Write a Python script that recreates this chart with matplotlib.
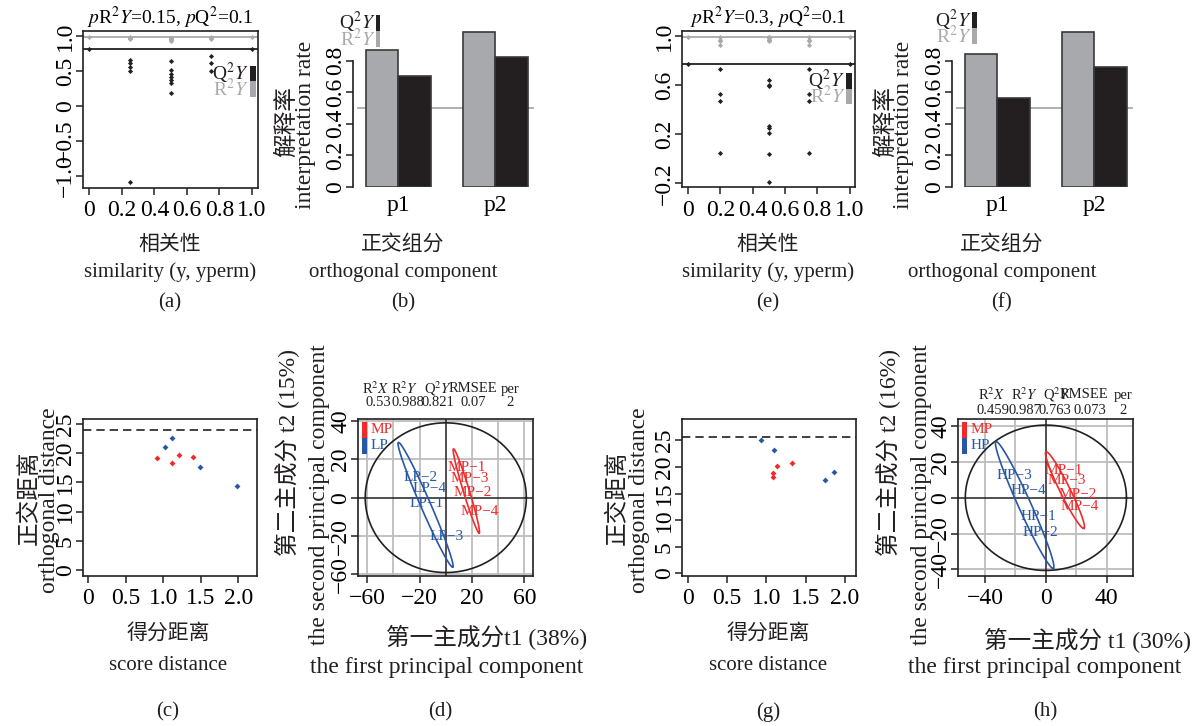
import numpy as np
import matplotlib
matplotlib.use("Agg")
import matplotlib.pyplot as plt
from matplotlib.patches import Rectangle

plt.rcParams['font.family'] = ['Liberation Serif', 'Noto Sans CJK SC']
plt.rcParams['mathtext.fontset'] = 'stix'
plt.rcParams['axes.unicode_minus'] = True

W, H = 1199, 726
INK = '#231F20'
GREY = '#A7A9AC'
RED = '#EE2A2A'
BLUE = '#2757A5'

# permutation tests: similarity, R2Y and Q2Y of each permuted model
perm_sim_a = [0.0, 0.25, 0.25, 0.25, 0.25, 0.25, 0.5, 0.5, 0.5, 0.5, 0.5, 0.5, 0.5, 0.75, 0.75, 0.75, 1.0]
perm_r2_a = [0.98, 0.97, 0.98, 0.96, 0.97, 0.97, 0.95, 0.93, 0.96, 0.97, 0.95, 0.94, 0.97, 0.97, 0.96, 0.98, 0.98]
perm_q2_a = [0.81, 0.66, 0.61, 0.56, 0.50, -1.08, 0.64, 0.51, 0.46, 0.42, 0.37, 0.33, 0.19, 0.72, 0.61, 0.50, 0.81]
model_a = (0.98, 0.81)

perm_sim_e = [0.0, 0.2, 0.2, 0.2, 0.2, 0.5, 0.5, 0.5, 0.5, 0.5, 0.5, 0.5, 0.5, 0.75, 0.75, 0.75, 0.75, 1.0]
perm_r2_e = [0.99, 0.99, 0.96, 0.97, 0.93, 0.99, 0.98, 0.97, 0.97, 0.96, 0.98, 0.99, 0.97, 0.99, 0.97, 0.96, 0.93, 0.99]
perm_q2_e = [0.77, 0.73, 0.53, 0.47, 0.05, 0.64, 0.60, 0.59, 0.27, 0.25, 0.21, 0.04, -0.19, 0.73, 0.53, 0.47, 0.05, 0.77]
model_e = (0.99, 0.77)

# explained variation per orthogonal component
components = ['p1', 'p2']
r2y_b = [0.87, 0.98]
q2y_b = [0.70, 0.82]
r2y_f = [0.84, 0.98]
q2y_f = [0.565, 0.76]

# score distance vs orthogonal distance
sd_c_mp = [0.92, 1.12, 1.21, 1.40]
od_c_mp = [19.2, 18.3, 19.7, 19.3]
sd_c_lp = [1.03, 1.12, 1.49, 1.98]
od_c_lp = [21.0, 22.65, 17.6, 14.3]
od_limit_c = 24.0

sd_g_mp = [1.08, 1.08, 1.13, 1.32]
od_g_mp = [18.9, 18.2, 20.2, 20.8]
sd_g_hp = [0.93, 1.10, 1.75, 1.86]
od_g_hp = [25.0, 23.1, 17.6, 19.1]
od_limit_g = 25.6

# OPLS-DA score plots
names_d_mp = ['MP−1', 'MP−2', 'MP−3', 'MP−4']
t1_d_mp = [16.0, 20.6, 18.6, 26.2]
t2_d_mp = [15.7, 2.6, 10.1, -7.3]
names_d_lp = ['LP−1', 'LP−2', 'LP−3', 'LP−4']
t1_d_lp = [-15.0, -18.9, 0.8, -12.5]
t2_d_lp = [-3.0, 10.6, -20.3, 4.9]

names_h_mp = ['MP−1', 'MP−2', 'MP−3', 'MP−4']
t1_h_mp = [11.5, 20.7, 13.7, 22.0]
t2_h_mp = [15.4, 2.0, 9.5, -5.0]
names_h_hp = ['HP−1', 'HP−2', 'HP−3', 'HP−4']
t1_h_hp = [-4.9, -3.8, -20.9, -11.5]
t2_h_hp = [-10.2, -19.3, 12.7, 3.9]

# ellipses: centre x, centre y, semi-major, semi-minor, angle (deg)
ell_d_t2 = (0.0, 0.0, 61.5, 39.0, 0.0)
ell_d_mp = (15.7, 3.55, 24.0, 2.2, -65.8)
ell_d_lp = (-15.45, -3.65, 38.5, 3.5, -57.3)
ell_h_t2 = (0.0, 0.0, 53.0, 40.6, 0.0)
ell_h_mp = (12.55, 4.3, 24.8, 3.2, -59.6)
ell_h_hp = (-13.95, -4.05, 40.1, 4.0, -61.9)

metric_names = [r'R$^2$$X$', r'R$^2$$Y$', r'Q$^2$$Y$', 'RMSEE', 'per']
metrics_d = ['0.53', '0.988', '0.821', '0.07', '2']
metrics_h = ['0.459', '0.987', '0.763', '0.073', '2']

fig = plt.figure(figsize=(W / 100, H / 100), dpi=100)


def px_axes(l, t, r, b):
    return fig.add_axes([l / W, 1 - b / H, (r - l) / W, (b - t) / H])


def ftext(x, y, s, **kw):
    kw.setdefault('ha', 'center')
    kw.setdefault('va', 'center')
    fig.text(x / W, 1 - y / H, s, **kw)


def style(ax, box=True):
    for sp in ax.spines.values():
        sp.set_linewidth(1.2)
        sp.set_color(INK)
        sp.set_visible(box)
    ax.tick_params(length=5, width=1.1, color=INK, labelsize=17, pad=4)
    ax.tick_params(axis='y', labelrotation=90, pad=0)
    for lbl in ax.get_yticklabels():
        lbl.set_va('center')


def ellipse_xy(p):
    cx, cy, a, b, ang = p
    t = np.linspace(0, 2 * np.pi, 300)
    th = np.deg2rad(ang)
    x = cx + a * np.cos(t) * np.cos(th) - b * np.sin(t) * np.sin(th)
    y = cy + a * np.cos(t) * np.sin(th) + b * np.sin(t) * np.cos(th)
    return x, y


def perm_panel(box, xlim, ylim, sim, r2, q2, model, yticks, ylabels, title):
    ax = px_axes(*box)
    ax.axhline(model[0], color=GREY, lw=1.3)
    ax.axhline(model[1], color=INK, lw=1.3)
    ax.plot(sim, r2, 'D', color=GREY, ms=2.6, mec='none')
    ax.plot(sim, q2, 'D', color=INK, ms=2.6, mec='none')
    ax.set_xlim(*xlim)
    ax.set_ylim(*ylim)
    ax.set_xticks([0, 0.2, 0.4, 0.6, 0.8, 1.0], ['0', '0.2', '0.4', '0.6', '0.8', '1.0'])
    ax.set_yticks(yticks, ylabels)
    style(ax)
    ax.set_title(title, fontsize=14, pad=2)
    return ax


def inline_legend(ax, x_bar, y_top, seg_h, bar_w, fontsize=14):
    # stacked colour keys with their labels to the left
    for i, (lab, col) in enumerate([(r'Q$^2$$Y$', INK), (r'R$^2$$Y$', GREY)]):
        y0 = y_top - (i + 1) * seg_h
        ax.add_patch(Rectangle((x_bar, y0), bar_w, seg_h, transform=ax.transAxes,
                               color=col, clip_on=False, lw=0))
        ax.text(x_bar - 0.005, y0 + seg_h / 2, lab, transform=ax.transAxes, color=col,
                ha='right', va='center', fontsize=fontsize)


def bar_panel(box, r2, q2):
    ax = px_axes(*box)
    pos = np.arange(len(components)) * 3 + 1
    ax.bar(pos + 0.5, r2, width=1, color=GREY, edgecolor='#3A3A3A', lw=1.2)
    ax.bar(pos + 1.5, q2, width=1, color=INK, edgecolor='#3A3A3A', lw=1.2)
    ax.axhline(0.5, xmin=0.027, xmax=0.989, color=GREY, lw=1.3, zorder=0)
    ax.set_xlim(0.6, 6.23)
    ax.set_ylim(0, 1.057)
    ax.set_xticks(pos + 1, components)
    ax.set_yticks([0, 0.2, 0.4, 0.6, 0.8], ['0', '0.2', '0.4', '0.6', '0.8'])
    style(ax, box=False)
    ax.spines['left'].set_visible(True)
    ax.spines['left'].set_bounds(0, 0.8)
    ax.tick_params(axis='x', length=0, pad=6)
    return ax


def dist_panel(box, xlim, ylim, sd_a, od_a, sd_b, od_b, limit):
    ax = px_axes(*box)
    ax.axhline(limit, color=INK, lw=1.2, ls=(0, (5, 3)))
    ax.plot(sd_a, od_a, 'D', color=RED, ms=3, mec='none')
    ax.plot(sd_b, od_b, 'D', color=BLUE, ms=3, mec='none')
    ax.set_xlim(*xlim)
    ax.set_ylim(*ylim)
    ax.set_xticks([0, 0.5, 1.0, 1.5, 2.0], ['0', '0.5', '1.0', '1.5', '2.0'])
    ax.set_yticks([0, 5, 10, 15, 20, 25])
    style(ax)
    return ax


def score_panel(box, xlim, ylim, grid, xticks, xlabels, yticks, ylabels,
                ells, groups, legend, metrics, name_x, val_x, name_y, val_y):
    ax = px_axes(*box)
    for g in grid[0]:
        ax.axvline(g, color='#BDBDBD', lw=1.3, zorder=0)
    for g in grid[1]:
        ax.axhline(g, color='#BDBDBD', lw=1.3, zorder=0)
    ax.axvline(0, color=INK, lw=1.1)
    ax.axhline(0, color=INK, lw=1.1)
    for p, col in zip(ells, [INK, RED, BLUE]):
        ex, ey = ellipse_xy(p)
        ax.plot(ex, ey, color=col, lw=1.2)
    for names, tx, ty, col in groups:
        for n, x, y in zip(names, tx, ty):
            ax.text(x, y, n, color=col, fontsize=11, ha='center', va='center')
    for i, (lab, col) in enumerate(legend):
        y0 = 0.98 - (i + 1) * 0.1
        ax.add_patch(Rectangle((0.022, y0), 0.03, 0.1, transform=ax.transAxes,
                               color=col, lw=0))
        ax.text(0.07, y0 + 0.05, lab, transform=ax.transAxes, color=col,
                fontsize=11, ha='left', va='center')
    for n, v, xn, xv in zip(metric_names, metrics, name_x, val_x):
        ftext(xn, name_y, n, fontsize=10.5, color=INK)
        ftext(xv, val_y, v, fontsize=10.5, color=INK)
    ax.set_xlim(*xlim)
    ax.set_ylim(*ylim)
    ax.set_xticks(xticks, xlabels)
    ax.set_yticks(yticks, ylabels)
    style(ax)
    return ax


# (a) and (e): permutation tests
ax_a = perm_panel((83, 31, 258, 188), (-0.04, 1.037), (-1.17, 1.07),
                  perm_sim_a, perm_r2_a, perm_q2_a, model_a,
                  [-1.0, -0.5, 0, 0.5, 1.0], ['−1.0', '−0.5', '0', '0.5', '1.0'],
                  r'$p$R$^2$$Y$=0.15, $p$Q$^2$=0.1')
inline_legend(ax_a, 0.952, 0.78, 0.1, 0.035)

ax_e = perm_panel((682, 31, 855, 187), (-0.037, 1.034), (-0.23, 1.04),
                  perm_sim_e, perm_r2_e, perm_q2_e, model_e,
                  [-0.2, 0.2, 0.6, 1.0], ['−0.2', '0.2', '0.6', '1.0'],
                  r'$p$R$^2$$Y$=0.3, $p$Q$^2$=0.1')
inline_legend(ax_e, 0.947, 0.73, 0.1, 0.035)

# (b) and (f): explained variation
ax_b = bar_panel((353, 20, 535, 187), r2y_b, q2y_b)
inline_legend(ax_b, 0.126, 1.03, 0.095, 0.022)
ax_f = bar_panel((952, 20, 1134, 187), r2y_f, q2y_f)
inline_legend(ax_f, 0.11, 1.045, 0.095, 0.027)

# (c) and (g): distance plots
dist_panel((83, 419, 257, 576), (-0.067, 2.25), (-1.03, 25.86),
           sd_c_mp, od_c_mp, sd_c_lp, od_c_lp, od_limit_c)
dist_panel((682, 419, 856, 576), (-0.076, 2.14), (-0.47, 29.0),
           sd_g_mp, od_g_mp, sd_g_hp, od_g_hp, od_limit_g)

# (d) and (h): score plots
score_panel((358, 419, 533, 576), (-67, 66.6), (-40.8, 41),
            ([-60, -40, -20, 20, 40, 60], [-40, -20, 20, 40]),
            [-60, -20, 20, 60], ['−60', '−20', '20', '60'],
            [40, 20, 0, -20, -40], ['40', '20', '0', '−20', '−60'],
            [ell_d_t2, ell_d_mp, ell_d_lp],
            [(names_d_mp, t1_d_mp, t2_d_mp, RED), (names_d_lp, t1_d_lp, t2_d_lp, BLUE)],
            [('MP', RED), ('LP', BLUE)], metrics_d,
            [376, 405, 438, 473, 510], [378, 408, 438, 473, 510], 389, 403)
score_panel((958, 419, 1133, 576), (-57.8, 57.3), (-43.7, 44),
            ([-40, -20, 20, 40], [-40, -20, 20, 40]),
            [-40, 0, 40], ['−40', '0', '40'],
            [40, 20, 0, -20, -40], ['40', '20', '0', '−20', '−40'],
            [ell_h_t2, ell_h_mp, ell_h_hp],
            [(names_h_mp, t1_h_mp, t2_h_mp, RED), (names_h_hp, t1_h_hp, t2_h_hp, BLUE)],
            [('MP', RED), ('HP', BLUE)], metrics_h,
            [992, 1025, 1057, 1084, 1123], [993, 1025, 1055, 1090, 1123], 395, 411)

# axis titles and panel letters
lab_kw = dict(fontsize=15, color=INK)
for cx in (170, 768):
    ftext(cx, 245, '相关性', **lab_kw)
    ftext(cx, 272, 'similarity (y, yperm)', **lab_kw)
for cx in (403, 1002):
    ftext(cx, 245, '正交组分', **lab_kw)
    ftext(cx, 272, 'orthogonal component', **lab_kw)
for cx, tag in [(170, '(a)'), (403, '(b)'), (768, '(e)'), (1002, '(f)')]:
    ftext(cx, 303, tag, **lab_kw)

for cx in (168, 768):
    ftext(cx, 634, '得分距离', **lab_kw)
    ftext(cx, 665, 'score distance', **lab_kw)
ftext(487, 637, '第一主成分t1 (38%)', fontsize=17, color=INK)
ftext(447, 667, 'the first principal component', fontsize=17, color=INK)
ftext(1088, 640, '第一主成分 t1 (30%)', fontsize=17, color=INK)
ftext(1045, 667, 'the first principal component', fontsize=17, color=INK)
for cx, tag in [(168, '(c)'), (440, '(d)'), (768, '(g)'), (1045, '(h)')]:
    ftext(cx, 712, tag, **lab_kw)

rot = dict(rotation=90, fontsize=17, color=INK)
ftext(287, 122, '解释率', **rot)
ftext(305, 125, 'interpretation rate', **rot)
ftext(886, 122, '解释率', **rot)
ftext(904, 125, 'interpretation rate', **rot)
ftext(30, 498, '正交距离', **rot)
ftext(50, 500, 'orthogonal distance', **rot)
ftext(618, 498, '正交距离', **rot)
ftext(640, 500, 'orthogonal distance', **rot)
ftext(287, 452, '第二主成分 t2 (15%)', **rot)
ftext(320, 495, 'the second principal component', **rot)
ftext(888, 452, '第二主成分 t2 (16%)', **rot)
ftext(922, 495, 'the second principal component', **rot)

fig.savefig('out.png', dpi=100)
